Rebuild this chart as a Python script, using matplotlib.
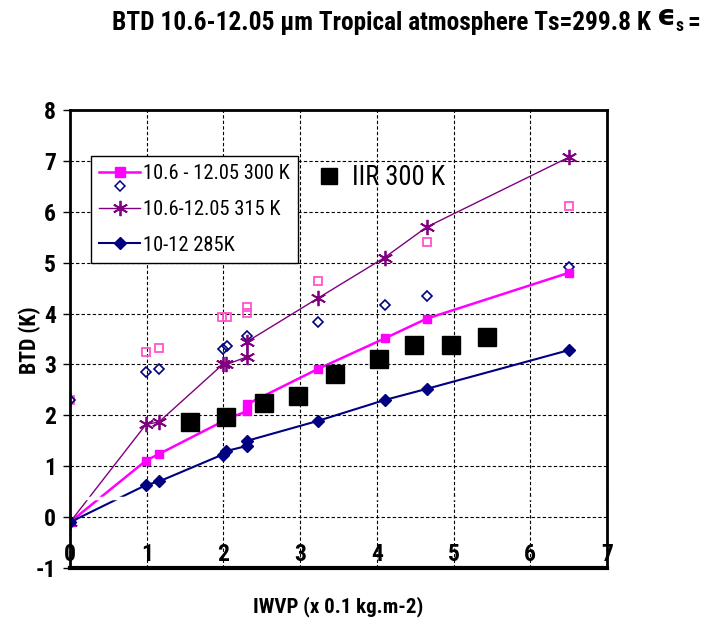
import matplotlib as mpl
mpl.use('Agg')
import matplotlib.pyplot as plt
from matplotlib import font_manager
from matplotlib.lines import Line2D
from matplotlib.legend_handler import HandlerBase


def pick(names):
    for n in names:
        try:
            font_manager.findfont(n, fallback_to_default=False)
            return n
        except Exception:
            pass
    return 'DejaVu Sans'


narrow = pick(['Liberation Sans Narrow', 'Arial Narrow', 'Roboto Condensed',
               'Archivo Narrow', 'PT Sans Narrow', 'Liberation Sans'])

# 10.6 - 12.05 300 K (line)
x_300 = [0, 0.99, 1.16, 1.99, 2.04, 2.31, 2.31, 3.23, 4.10, 4.65, 6.50]
y_300 = [-0.1, 1.11, 1.24, 1.88, 1.93, 2.08, 2.22, 2.91, 3.51, 3.90, 4.80]

# 10.6-12.05 315 K (line)
x_315 = [0, 0.99, 1.16, 1.99, 2.04, 2.31, 2.31, 3.23, 4.10, 4.65, 6.50]
y_315 = [-0.1, 1.82, 1.87, 3.0, 3.0, 3.15, 3.45, 4.30, 5.10, 5.70, 7.07]

# 10-12 285K (line)
x_285 = [0, 0.99, 1.16, 1.99, 2.04, 2.31, 2.31, 3.23, 4.10, 4.65, 6.50]
y_285 = [-0.1, 0.63, 0.70, 1.23, 1.30, 1.40, 1.50, 1.89, 2.30, 2.52, 3.28]

# open pink squares
x_sq_open = [0, 0.99, 1.16, 1.98, 2.05, 2.31, 2.31, 3.23, 4.65, 6.50]
y_sq_open = [2.3, 3.24, 3.32, 3.93, 3.93, 4.02, 4.12, 4.63, 5.41, 6.11]

# open navy diamonds
x_dia_open = [0, 0.99, 1.16, 1.99, 2.05, 2.31, 3.23, 4.10, 4.65, 6.50]
y_dia_open = [2.3, 2.85, 2.91, 3.30, 3.36, 3.55, 3.83, 4.16, 4.34, 4.92]

# IIR 300 K
x_iir = [1.56, 2.04, 2.53, 2.97, 3.45, 4.03, 4.49, 4.97, 5.44]
y_iir = [1.86, 1.97, 2.25, 2.38, 2.81, 3.10, 3.38, 3.38, 3.53]

x_ticks = [0, 1, 2, 3, 4, 5, 6, 7]
y_ticks = [-1, 0, 1, 2, 3, 4, 5, 6, 7, 8]

PINK = '#ff00ff'
PINK_OPEN = '#ff55cc'
PURPLE = '#800080'
NAVY = '#000080'
ASTER = (6, 2, 0)

fig = plt.figure(figsize=(7.1, 6.2), dpi=100)
renderer = fig.canvas.get_renderer()


def size_for(text, width_px, weight='normal', size=15):
    # font size that makes text about width_px wide
    t = fig.text(0, 0, text, family=narrow, weight=weight, size=size)
    w = t.get_window_extent(renderer).width
    t.remove()
    return size * width_px / w


ax = fig.add_axes([70 / 710, 52 / 620, 537 / 710, 458 / 620])

ax.plot(x_sq_open, y_sq_open, ls='none', marker='s', ms=6, mfc='none',
        mec=PINK_OPEN, mew=1.3, zorder=3)
ax.plot(x_dia_open, y_dia_open, ls='none', marker='D', ms=5, mfc='none',
        mec=NAVY, mew=1.2, zorder=3)
l300, = ax.plot(x_300, y_300, color=PINK, lw=1.8, marker='s', ms=6,
                mec=PINK, zorder=4)
l315, = ax.plot(x_315, y_315, color=PURPLE, lw=1.0, marker=ASTER, ms=11,
                mew=1.3, zorder=4)
l285, = ax.plot(x_285, y_285, color=NAVY, lw=1.5, marker='D', ms=6,
                zorder=4)
liir, = ax.plot(x_iir, y_iir, ls='none', marker='s', ms=13, color='black',
                zorder=5)

ax.set_xlim(0, 7)
ax.set_ylim(-1, 8)
ax.set_xticks(x_ticks)
ax.set_yticks(y_ticks)
ax.grid(True, color='black', ls=(0, (3, 2)), lw=0.8)
ax.set_axisbelow(True)

for s in ['left', 'right', 'top']:
    ax.spines[s].set_linewidth(2)
    ax.spines[s].set_zorder(8)
# x axis line sits inside the plot (drawn white), labels below it
ax.spines['bottom'].set_position(('data', 0.37))
ax.spines['bottom'].set_color('white')
ax.spines['bottom'].set_linewidth(2.5)
ax.spines['bottom'].set_zorder(6)
ax.axhline(-1, color='black', lw=3, clip_on=False, zorder=8)

tick_font = dict(family=narrow, weight='bold', size=17)
ax.set_xticklabels([str(v) for v in x_ticks], fontdict=tick_font)
ax.set_yticklabels([str(v) for v in y_ticks], fontdict=tick_font)
ax.tick_params(axis='x', direction='inout', length=5, width=1,
               color='black', pad=30)
ax.tick_params(axis='y', direction='out', length=5, width=1, pad=5)

ylab_size = size_for('BTD (K)', 68, weight='bold')
fig.text(30 / 710, 1 - 340 / 620, 'BTD (K)', rotation=90, ha='center',
         va='center', family=narrow, weight='bold', size=ylab_size)
xlab_size = size_for('IWVP (x 0.1 kg.m-2)', 171, weight='bold')
fig.text(338 / 710, 1 - 607 / 620, 'IWVP (x 0.1 kg.m-2)', ha='center',
         va='center', family=narrow, weight='bold', size=xlab_size)


class PinkWithDiamond(HandlerBase):
    def create_artists(self, legend, orig_handle, xdescent, ydescent,
                       width, height, fontsize, trans):
        yc = height / 2 - ydescent
        line = Line2D([-xdescent, width - xdescent], [yc, yc], color=PINK,
                      lw=1.8, transform=trans)
        mk = Line2D([width / 2 - xdescent], [yc], marker='s', ms=7,
                    color=PINK, ls='none', transform=trans)
        dia = Line2D([width / 2 - xdescent], [yc - 1.0 * height],
                     marker='D', ms=5, mfc='none', mec=NAVY, mew=1.1,
                     ls='none', transform=trans)
        return [line, mk, dia]


leg_size = size_for('10.6 - 12.05 300 K', 147)
leg_font = dict(family=narrow, size=leg_size)
leg1 = ax.legend([l300, l315, l285],
                 ['10.6 - 12.05 300 K', '10.6-12.05 315 K', '10-12 285K'],
                 handler_map={l300: PinkWithDiamond()},
                 loc='upper left', bbox_to_anchor=(0.039, 0.90),
                 prop=leg_font, frameon=True, fancybox=False,
                 edgecolor='black', framealpha=1, handlelength=2.0,
                 handletextpad=0.15, labelspacing=0.82, borderpad=0.4,
                 borderaxespad=0)
leg1.get_frame().set_linewidth(1.0)
leg1.set_zorder(8)
ax.add_artist(leg1)

iir_size = size_for('IIR 300 K', 93)
leg2 = ax.legend([liir], ['IIR 300 K'], loc='center left',
                 bbox_to_anchor=(0.46, 0.852),
                 prop=dict(family=narrow, size=iir_size),
                 frameon=False, handlelength=0.9, handletextpad=0.4,
                 borderaxespad=0, borderpad=0, markerscale=0.85)

# title
title_size = size_for('BTD 10.6-12.05 \u00b5m Tropical atmosphere Ts=299.8 K',
                      540, weight='bold')
t1 = fig.text(112 / 710, 1 - 30 / 620,
              'BTD 10.6-12.05 \u00b5m Tropical atmosphere Ts=299.8 K',
              family=narrow, weight='bold', size=title_size, va='baseline')
bb = t1.get_window_extent(renderer)
t2 = fig.text(bb.x1 / fig.bbox.width + 0.008, 1 - 25 / 620, '\u03f5',
              family='DejaVu Sans', weight='bold', size=title_size * 1.15,
              va='baseline')
bb2 = t2.get_window_extent(renderer)
t3 = fig.text(bb2.x1 / fig.bbox.width, 1 - 31 / 620, 's', family=narrow,
              weight='bold', size=title_size * 0.7, va='baseline')
bb3 = t3.get_window_extent(renderer)
fig.text(bb3.x1 / fig.bbox.width + 0.006, 1 - 30 / 620, '=', family=narrow,
         weight='bold', size=title_size, va='baseline')

fig.savefig('out.png', dpi=100)
